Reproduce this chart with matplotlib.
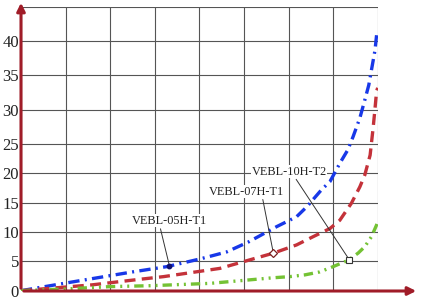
import numpy as np
import matplotlib
matplotlib.use('Agg')
import matplotlib.pyplot as plt
from matplotlib.patches import FancyArrowPatch

plt.rcParams['font.family'] = ['Liberation Serif', 'DejaVu Serif']

# curves (x in grid cells, y in axis units)
x_05 = [0, 1.0, 2.5, 3.27, 4.01, 4.61, 5.10, 5.73, 6.18, 6.41, 6.74, 6.93,
        7.15, 7.33, 7.45, 7.60, 7.71, 7.80, 7.86, 7.94, 7.975, 8.0]
y_05 = [0, 1.3, 3.2, 4.1, 5.4, 6.6, 8.3, 10.9, 12.6, 14.3, 17.2, 18.6,
        21.7, 24.0, 26.1, 28.8, 31.4, 33.6, 35.8, 38.7, 40.9, 41.5]

x_07 = [0, 1.6, 2.5, 3.2, 4.46, 5.66, 6.18, 6.55, 6.93, 7.15, 7.41, 7.60,
        7.71, 7.83, 7.9, 7.94, 7.975, 8.0]
y_07 = [0, 1.0, 1.8, 2.4, 3.8, 6.4, 7.8, 9.2, 10.6, 12.0, 14.9, 17.7,
        19.7, 23.1, 27.5, 30.2, 32.7, 33.2]

x_10 = [0, 1.0, 2.0, 2.9, 4.24, 5.65, 6.03, 6.37, 6.70, 7.0, 7.34, 7.56,
        7.71, 7.86, 7.975, 8.0]
y_10 = [0, 0.3, 0.7, 0.85, 1.25, 2.2, 2.4, 2.7, 3.2, 4.1, 5.2, 6.4,
        7.5, 9.2, 11.2, 11.7]

labels = ['VEBL-05H-T1', 'VEBL-07H-T1', 'VEBL-10H-T2']
mark_x = [3.33, 5.66, 7.36]
text_xy = [(3.32, 11.9), (5.06, 16.9), (6.01, 20.3)]
leader_start = [0.38, 0.71, 0.58]
yticks = [0, 5, 10, 15, 20, 25, 30, 35, 40]

# the picture's y axis is stretched above 25
K = 6.85 / 5.87


def fwd(v):
    v = np.asarray(v, dtype=float)
    return np.where(v <= 25, v, 25 + (v - 25) * K)


def inv(u):
    u = np.asarray(u, dtype=float)
    return np.where(u <= 25, u, 25 + (u - 25) / K)


W, H = 422, 297
fig = plt.figure(figsize=(W / 100, H / 100), dpi=100)
ax = fig.add_axes([21 / W, (H - 290.7) / H, (377.7 - 21) / W, (290.7 - 7) / H])
ax.set_yscale('function', functions=(fwd, inv))
ax.set_xlim(0, 8)
ax.set_ylim(0, 45)

ax.set_xticks(np.arange(0, 9))
ax.set_yticks(np.arange(0, 50, 5))
ax.set_yticklabels([str(t) if t in yticks else '' for t in range(0, 50, 5)])
ax.set_xticklabels([])
ax.tick_params(length=0, labelsize=12, pad=1.5, labelcolor='#222222')
ax.grid(True, color='#555555', linewidth=0.8)
for s in ax.spines.values():
    s.set_visible(False)
ax.set_axisbelow(True)

blue, red, green = '#1838e8', '#c4323a', '#74c234'
lw = 2.4
ax.plot(x_05, y_05, color=blue, lw=lw, dashes=(3.4, 1.6, 0.6, 1.6), zorder=3)
ax.plot(x_07, y_07, color=red, lw=lw, dashes=(3.3, 1.9), zorder=3)
ax.plot(x_10, y_10, color=green, lw=lw,
        dashes=(2.8, 1.5, 0.6, 1.5, 0.6, 1.5), zorder=3)

curves = [(x_05, y_05), (x_07, y_07), (x_10, y_10)]
for i, ((cx, cy), mx, lab, txy, rp) in enumerate(
        zip(curves, mark_x, labels, text_xy, leader_start)):
    my = np.interp(mx, cx, cy)
    ax.annotate(lab, xy=(mx, my), xytext=txy, ha='center', va='center',
                fontsize=8.8, color='#222222', zorder=5,
                bbox=dict(boxstyle='square,pad=0.05', fc='white', ec='none'),
                arrowprops=dict(arrowstyle='-', lw=0.7, color='#333333',
                                relpos=(rp, 0), shrinkA=1, shrinkB=1))
    if i == 0:
        ax.plot([mx], [my], marker='o', ms=3.2, color='#101070', zorder=6)
    elif i == 1:
        ax.plot([mx], [my], marker='D', ms=4, mfc='white', mec='#7a2020',
                mew=0.9, zorder=6)
    else:
        ax.plot([mx], [my], marker='s', ms=4.5, mfc='white', mec='#333333',
                mew=0.8, zorder=6)

# axis arrows
axis_col = '#a01c28'
for end in [(419 / W, (H - 291) / H), (21 / W, 1.0)]:
    fig.add_artist(FancyArrowPatch(
        (21 / W, (H - 291) / H), end, transform=fig.transFigure,
        arrowstyle='-|>', mutation_scale=12, color=axis_col, lw=2.2))

fig.savefig('out.png', dpi=100)
